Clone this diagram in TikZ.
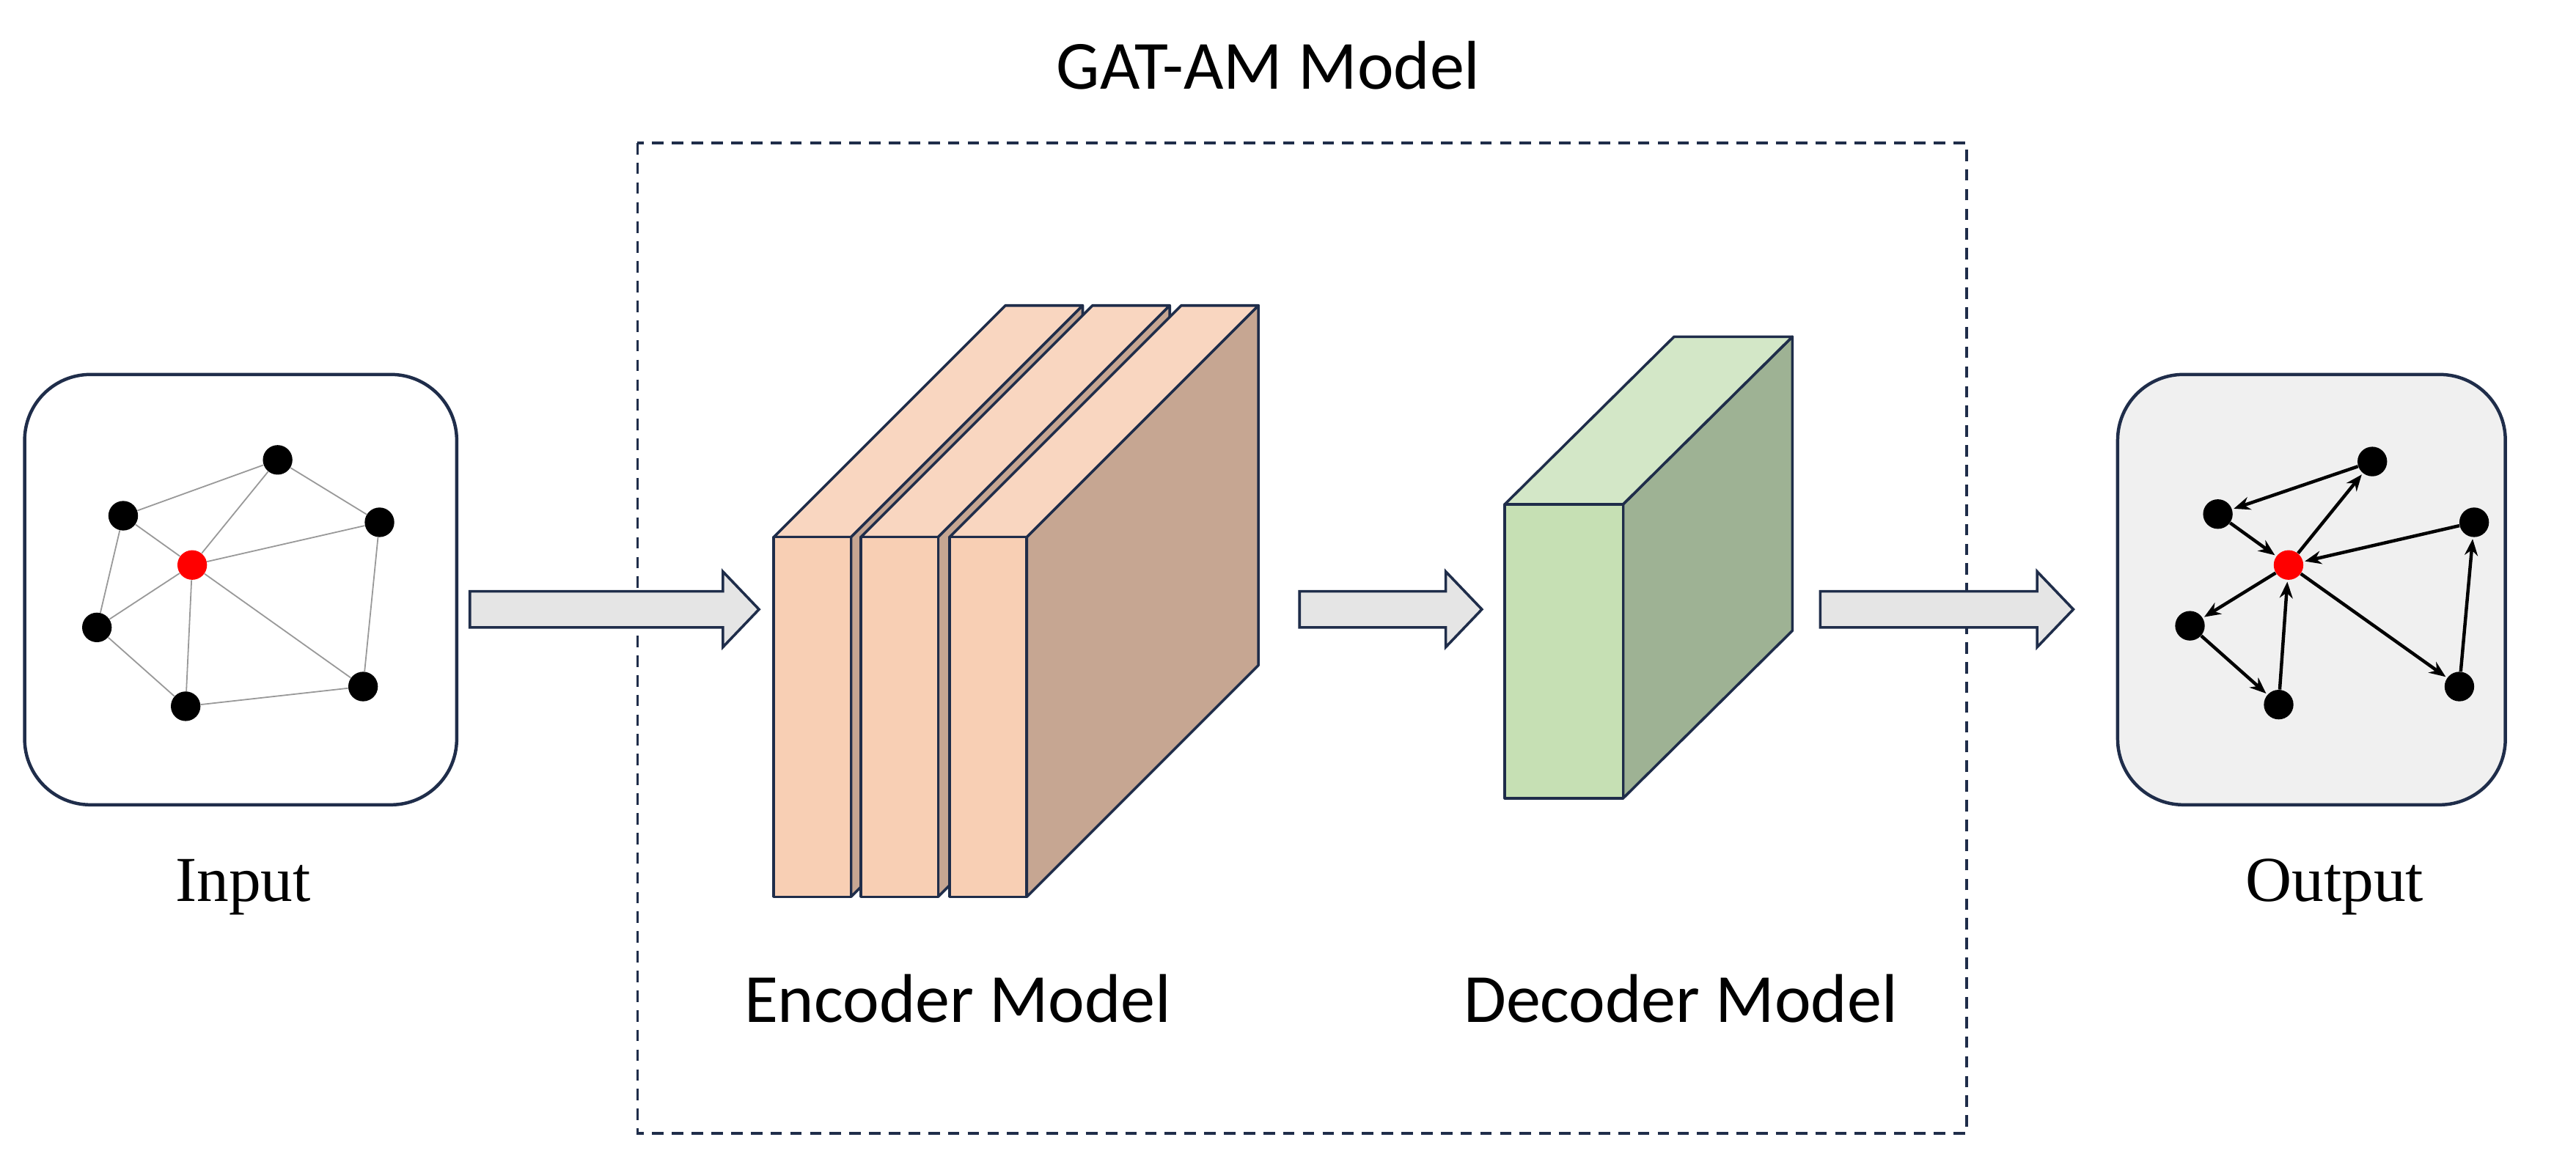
\documentclass[tikz,border=0pt]{standalone}
\usepackage{fontspec}
\setmainfont{Liberation Serif}
\newfontfamily\calfont{Carlito}
\usetikzlibrary{arrows.meta}
\definecolor{navy}{HTML}{1F2D4A}
\definecolor{pfront}{HTML}{F8CFB4}
\definecolor{ptop}{HTML}{F9D6C0}
\definecolor{pside}{HTML}{C6A692}
\definecolor{gfront}{HTML}{C6E0B4}
\definecolor{gtop}{HTML}{D3E7C7}
\definecolor{gside}{HTML}{9EB294}
\begin{document}
\begin{tikzpicture}[x=1pt,y=-1pt,
  face/.style={draw=navy,line width=1.6pt,line join=round},
  blk/.style={face,fill=#1},
  box/.style={draw=navy,line width=2pt,rounded corners=40pt},
  dot/.style={circle,fill=black,inner sep=0pt,minimum size=18pt},
  rdot/.style={circle,fill=red,inner sep=0pt,minimum size=18pt},
  ge/.style={draw=gray!80,line width=0.8pt},
  ae/.style={draw=black,line width=2pt,-{Stealth[length=10pt,width=8pt]},shorten >=1pt},
  barr/.style={draw=navy,line width=1.6pt,fill=black!10,line join=miter},
  lab/.style={font=\calfont\fontsize{42}{50}\selectfont},
  slab/.style={font=\fontsize{39}{46}\selectfont}]
\useasboundingbox (0,0) rectangle (1568,712);
% title and dashed box
\node[lab] (title) at (772,40) {GAT-AM Model};
\draw[navy,line width=1.6pt,dash pattern=on 7pt off 5pt] (388,87) rectangle (1197,690);
\node[lab] (enc) at (583,608) {Encoder Model};
\node[lab] (dec) at (1023,608) {Decoder Model};
% input
\draw[box,fill=white] (15,228) rectangle (278,490);
\node[slab] (inp) at (148,540) {Input};
\node[dot] (a) at (169,280) {};
\node[dot] (b) at (75,314) {};
\node[dot] (c) at (231,318) {};
\node[rdot] (r) at (117,344) {};
\node[dot] (d) at (59,382) {};
\node[dot] (e) at (113,430) {};
\node[dot] (f) at (221,418) {};
\foreach \u/\v in {a/b,a/c,a/r,b/r,b/d,c/r,c/f,r/d,r/e,r/f,d/e,e/f}
  \path[ge] (\u) -- (\v);
% output
\draw[box,fill=black!6] (1289,228) rectangle (1525,490);
\node[slab] (outp) at (1421,540) {Output};
\node[dot] (oa) at (1444,281) {};
\node[dot] (ob) at (1350,313) {};
\node[dot] (oc) at (1506,318) {};
\node[rdot] (or) at (1393,344) {};
\node[dot] (od) at (1333,381) {};
\node[dot] (oe) at (1387,429) {};
\node[dot] (of) at (1497,418) {};
\foreach \u/\v in {oa/ob,ob/or,or/oa,oc/or,or/od,od/oe,oe/or,or/of,of/oc}
  \path[ae] (\u) -- (\v);
% block arrows
\draw[barr] (286,360) -- (440,360) -- (440,348) -- (462,371) -- (440,394) -- (440,382) -- (286,382) -- cycle;
\draw[barr] (791,360) -- (880,360) -- (880,348) -- (902,371) -- (880,394) -- (880,382) -- (791,382) -- cycle;
\draw[barr] (1108,360) -- (1240,360) -- (1240,348) -- (1262,371) -- (1240,394) -- (1240,382) -- (1108,382) -- cycle;
% encoder slabs
\foreach \x in {471,524,578}{
  \pgfmathsetmacro{\xr}{\x+47}
  \draw[blk=pside] (\xr,327) -- (\xr+141,186) -- (\xr+141,405) -- (\xr,546) -- cycle;
  \draw[blk=ptop] (\x,327) -- (\x+141,186) -- (\xr+141,186) -- (\xr,327) -- cycle;
  \draw[blk=pfront] (\x,327) rectangle (\xr,546);
}
% decoder
\draw[blk=gside] (988,307) -- (1091,205) -- (1091,384) -- (988,486) -- cycle;
\draw[blk=gtop] (916,307) -- (1019,205) -- (1091,205) -- (988,307) -- cycle;
\draw[blk=gfront] (916,307) rectangle (988,486);
\end{tikzpicture}
\end{document}
